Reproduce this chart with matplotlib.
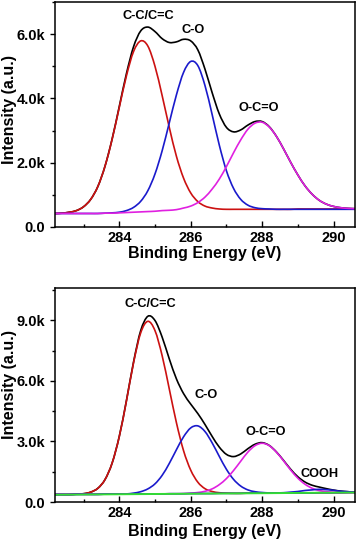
import matplotlib
matplotlib.use('Agg')
import matplotlib.pyplot as plt
from matplotlib.path import Path
from matplotlib.patches import PathPatch
from matplotlib.ticker import MultipleLocator, FuncFormatter

plt.rcParams['font.family'] = ['Liberation Sans', 'DejaVu Sans']
plt.rcParams['font.weight'] = 'bold'

##########################################
#   data (intensity in thousands of counts)
##########################################
energy = [282.2, 282.4, 282.6, 282.8, 283.0, 283.2, 283.4, 283.6, 283.8, 284.0,
          284.2, 284.4, 284.6, 284.8, 285.0, 285.2, 285.4, 285.6, 285.8, 286.0,
          286.2, 286.4, 286.6, 286.8, 287.0, 287.2, 287.4, 287.6, 287.8, 288.0,
          288.2, 288.4, 288.6, 288.8, 289.0, 289.2, 289.4, 289.6, 289.8, 290.0,
          290.2, 290.4, 290.6]

## top panel
top_sum = [0.42, 0.43, 0.46, 0.51, 0.63, 0.86, 1.26, 1.89, 2.74, 3.75,
           4.77, 5.61, 6.10, 6.22, 6.08, 5.86, 5.74, 5.76, 5.84, 5.79,
           5.51, 4.91, 4.18, 3.52, 3.10, 2.96, 3.02, 3.17, 3.28, 3.28,
           3.12, 2.82, 2.43, 2.01, 1.62, 1.28, 1.02, 0.83, 0.71, 0.64,
           0.60, 0.58, 0.57]
top_cc = [0.42, 0.43, 0.46, 0.51, 0.63, 0.86, 1.26, 1.89, 2.73, 3.72,
          4.70, 5.46, 5.79, 5.63, 5.00, 4.09, 3.10, 2.20, 1.52, 1.06,
          0.79, 0.65, 0.59, 0.56, 0.55, 0.55, 0.55, 0.55, 0.55, 0.55,
          0.55, 0.55, 0.55, 0.55, 0.56, 0.56, 0.56, 0.56, 0.56, 0.56,
          0.56, 0.56, 0.56]
top_co = [0.42, 0.42, 0.42, 0.42, 0.42, 0.42, 0.42, 0.43, 0.44, 0.46,
          0.51, 0.61, 0.80, 1.13, 1.65, 2.37, 3.24, 4.11, 4.81, 5.15,
          5.02, 4.40, 3.50, 2.55, 1.75, 1.20, 0.86, 0.68, 0.60, 0.57,
          0.56, 0.55, 0.55, 0.55, 0.55, 0.55, 0.55, 0.55, 0.55, 0.55,
          0.55, 0.55, 0.55]
top_oco = [0.42, 0.42, 0.42, 0.42, 0.42, 0.42, 0.42, 0.43, 0.43, 0.44,
           0.45, 0.46, 0.47, 0.48, 0.49, 0.51, 0.52, 0.54, 0.59, 0.65,
           0.76, 0.93, 1.18, 1.49, 1.88, 2.31, 2.71, 3.04, 3.23, 3.26,
           3.11, 2.82, 2.43, 2.01, 1.62, 1.28, 1.02, 0.83, 0.71, 0.64,
           0.60, 0.58, 0.57]

## bottom panel
bot_sum = [0.37, 0.37, 0.37, 0.39, 0.41, 0.49, 0.68, 1.11, 1.93, 3.25,
           5.02, 6.94, 8.49, 9.20, 8.99, 8.17, 7.09, 6.10, 5.37, 4.85,
           4.38, 3.84, 3.25, 2.72, 2.36, 2.25, 2.38, 2.64, 2.86, 2.94,
           2.80, 2.48, 2.06, 1.62, 1.25, 0.99, 0.83, 0.74, 0.66, 0.59,
           0.54, 0.51, 0.48]
bot_cc = [0.37, 0.37, 0.37, 0.39, 0.41, 0.49, 0.68, 1.11, 1.93, 3.24,
          5.00, 6.90, 8.38, 8.95, 8.49, 7.25, 5.60, 3.93, 2.54, 1.58,
          0.98, 0.66, 0.52, 0.46, 0.44, 0.43, 0.43, 0.44, 0.44, 0.44,
          0.44, 0.44, 0.45, 0.45, 0.45, 0.45, 0.45, 0.46, 0.46, 0.46,
          0.46, 0.47, 0.47]
bot_co = [0.37, 0.37, 0.37, 0.38, 0.38, 0.38, 0.38, 0.39, 0.39, 0.39,
          0.40, 0.44, 0.51, 0.65, 0.90, 1.32, 1.91, 2.59, 3.23, 3.67,
          3.77, 3.49, 2.93, 2.26, 1.62, 1.12, 0.79, 0.60, 0.51, 0.47,
          0.45, 0.44, 0.45, 0.45, 0.45, 0.45, 0.45, 0.46, 0.46, 0.46,
          0.46, 0.47, 0.47]
bot_oco = [0.37, 0.37, 0.37, 0.38, 0.38, 0.38, 0.38, 0.39, 0.39, 0.39,
           0.39, 0.40, 0.40, 0.40, 0.40, 0.40, 0.41, 0.41, 0.42, 0.44,
           0.47, 0.53, 0.65, 0.86, 1.16, 1.56, 2.02, 2.47, 2.79, 2.91,
           2.79, 2.47, 2.04, 1.58, 1.18, 0.88, 0.68, 0.57, 0.51, 0.48,
           0.47, 0.47, 0.47]
bot_cooh = [0.37, 0.37, 0.37, 0.38, 0.38, 0.38, 0.38, 0.39, 0.39, 0.39,
            0.39, 0.40, 0.40, 0.40, 0.40, 0.40, 0.41, 0.41, 0.41, 0.42,
            0.42, 0.42, 0.42, 0.43, 0.43, 0.43, 0.43, 0.44, 0.44, 0.44,
            0.44, 0.45, 0.46, 0.49, 0.52, 0.57, 0.60, 0.63, 0.61, 0.58,
            0.53, 0.51, 0.48]
bot_bg_x = [282.2, 290.6]
bot_bg = [0.36, 0.47]

## peak labels: (text, energy, intensity)
top_labels = [('C-C/C=C', 284.8, 6.55), ('C-O', 286.06, 6.14), ('O-C=O', 287.9, 3.69)]
bot_labels = [('C-C/C=C', 284.86, 9.82), ('C-O', 286.43, 5.30),
              ('O-C=O', 288.1, 3.49), ('COOH', 289.62, 1.40)]


def k_fmt(v, pos):
    if abs(v) < 1e-9:
        return '0.0'
    return '%.1fk' % v


def smooth_line(ax, x, y, color, lw=1.2):
    ## Catmull-Rom curve through the read points, drawn as bezier path in data coords
    pts = list(zip(x, y))
    verts = [pts[0]]
    codes = [Path.MOVETO]
    n = len(pts)
    for i in range(n - 1):
        p0 = pts[max(i - 1, 0)]
        p1 = pts[i]
        p2 = pts[i + 1]
        p3 = pts[min(i + 2, n - 1)]
        c1 = (p1[0] + (p2[0] - p0[0]) / 6.0, p1[1] + (p2[1] - p0[1]) / 6.0)
        c2 = (p2[0] - (p3[0] - p1[0]) / 6.0, p2[1] - (p3[1] - p1[1]) / 6.0)
        verts += [c1, c2, p2]
        codes += [Path.CURVE4, Path.CURVE4, Path.CURVE4]
    ax.add_patch(PathPatch(Path(verts, codes), facecolor='none', edgecolor=color,
                           lw=lw, capstyle='round', joinstyle='round'))


def style_axis(ax, ymax, ymajor, label_y, xlabel_y):
    ax.set_xlim(282.2, 290.6)
    ax.set_ylim(0, ymax)
    ax.xaxis.set_major_locator(MultipleLocator(2))
    ax.xaxis.set_minor_locator(MultipleLocator(1))
    ax.yaxis.set_major_locator(MultipleLocator(ymajor))
    ax.yaxis.set_minor_locator(MultipleLocator(ymajor / 2))
    ax.yaxis.set_major_formatter(FuncFormatter(k_fmt))
    ax.tick_params(axis='x', which='both', direction='in', labelsize=10.5, pad=3, width=1.0)
    ax.tick_params(axis='x', which='major', length=4)
    ax.tick_params(axis='x', which='minor', length=2.5)
    ax.tick_params(axis='y', which='both', direction='out', labelsize=10.5, pad=3.5, width=1.0)
    ax.tick_params(axis='y', which='major', length=3.5)
    ax.tick_params(axis='y', which='minor', length=2.5)
    for lab in ax.get_xticklabels() + ax.get_yticklabels():
        lab.set_fontweight('bold')
    for s in ax.spines.values():
        s.set_linewidth(1.1)
    ax.set_xlabel('Binding Energy (eV)', fontsize=11.5, fontweight='bold', va='center')
    ax.set_ylabel('Intensity (a.u.)', fontsize=11.5, fontweight='bold', va='center')
    ax.xaxis.set_label_coords(0.5, xlabel_y)
    ax.yaxis.set_label_coords(-0.15, label_y)


fig = plt.figure(figsize=(3.58, 5.42), dpi=100)

## top panel
ax1 = fig.add_axes([0.1536, 0.5812, 0.838, 0.4151])
smooth_line(ax1, energy, top_sum, 'black')
smooth_line(ax1, energy, top_cc, '#cc1111')
smooth_line(ax1, energy, top_co, '#1a1acc')
smooth_line(ax1, energy, top_oco, '#e020e0')
for txt, ex, iy in top_labels:
    ax1.text(ex, iy, txt, ha='center', va='center', fontsize=9.2, fontweight='bold')
style_axis(ax1, 7.0, 2.0, 0.52, -0.12)

## bottom panel
ax2 = fig.add_axes([0.1536, 0.0738, 0.838, 0.3948])
smooth_line(ax2, energy, bot_sum, 'black')
smooth_line(ax2, energy, bot_cc, '#cc1111')
smooth_line(ax2, energy, bot_co, '#1a1acc')
smooth_line(ax2, energy, bot_oco, '#e020e0')
smooth_line(ax2, energy, bot_cooh, '#1a1acc')
ax2.plot(bot_bg_x, bot_bg, color='#33dd33', lw=1.4)
for txt, ex, iy in bot_labels:
    ax2.text(ex, iy, txt, ha='center', va='center', fontsize=9.2, fontweight='bold')
style_axis(ax2, 10.6, 3.0, 0.55, -0.139)

plt.savefig('out.png', dpi=100)
